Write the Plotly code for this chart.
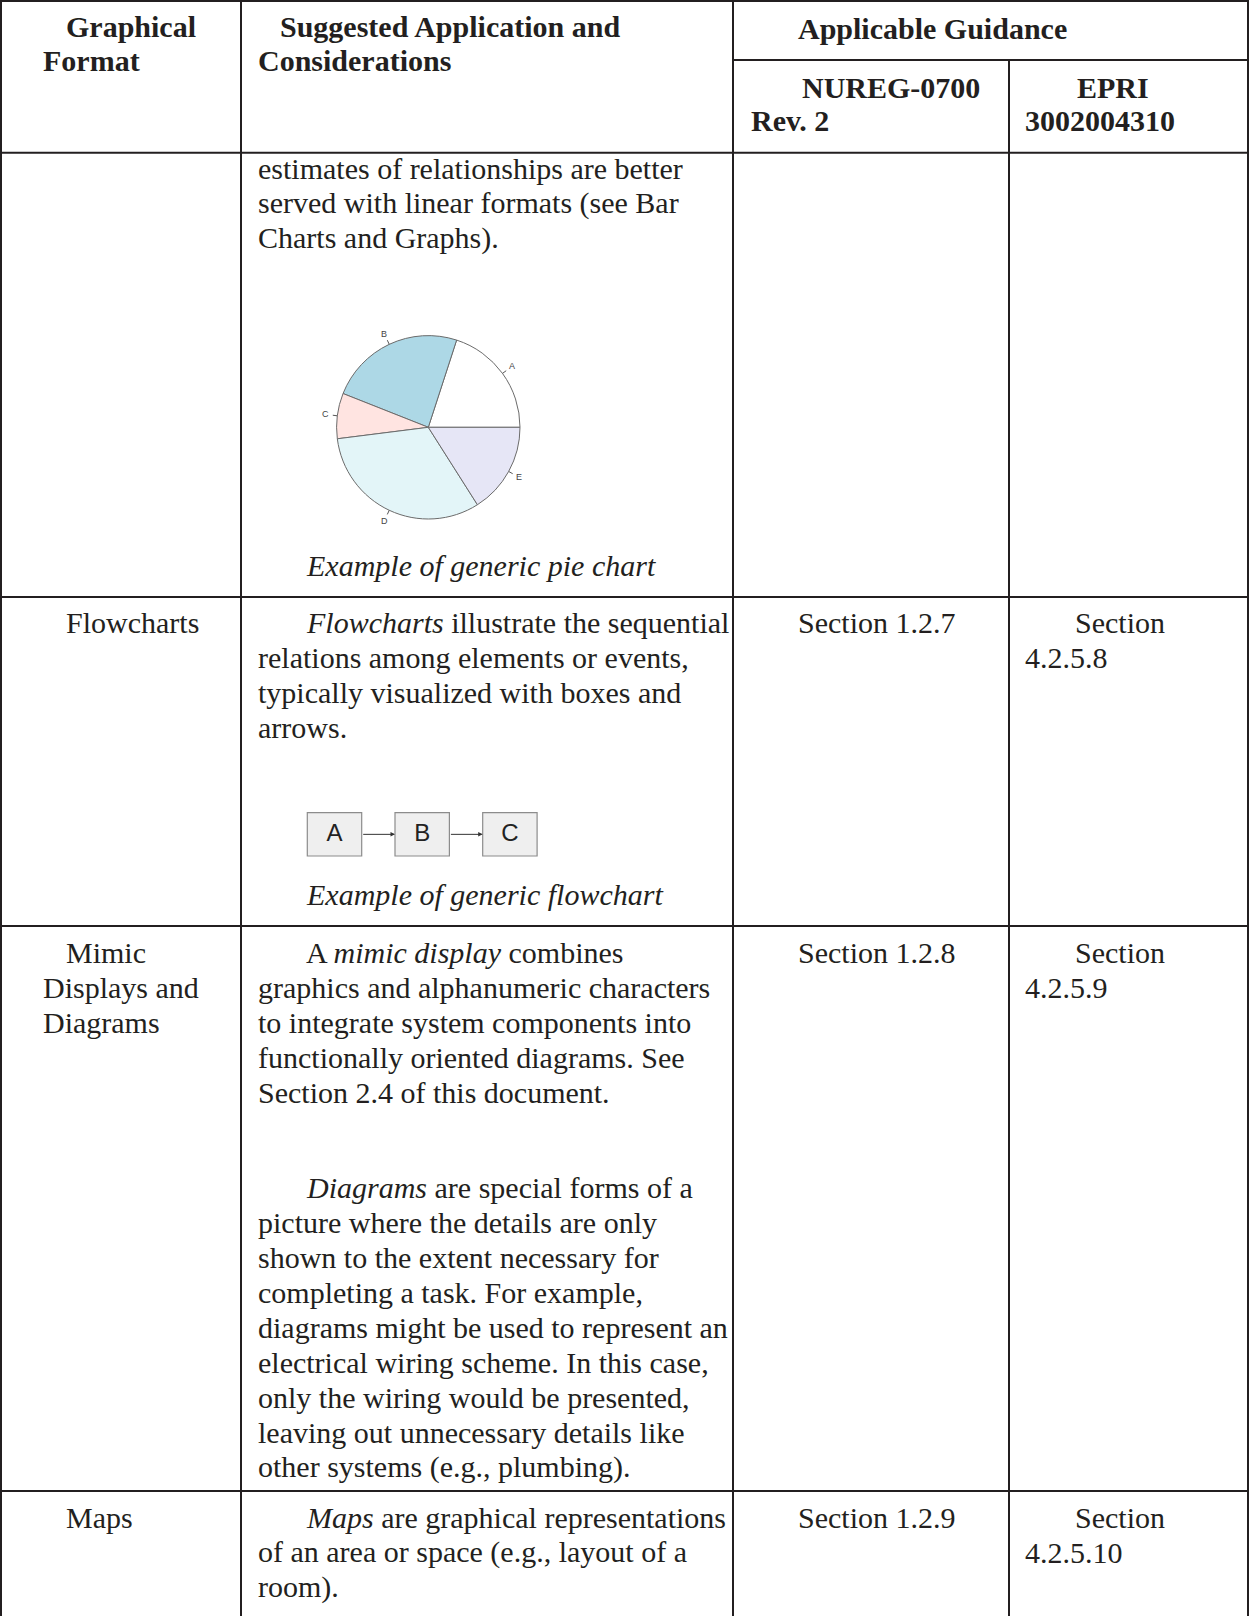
import math
import plotly.graph_objects as go

W, H = 1249, 1616
INK = "#231f20"
SERIF = "Liberation Serif, Times New Roman, serif"
SANS = "Liberation Sans, Arial, sans-serif"
FS = 30

# ---- table text ----
HEADER_FORMAT = ["Graphical", "Format"]
HEADER_APP = ["Suggested Application and", "Considerations"]
HEADER_GROUP = "Applicable Guidance"
HEADER_NUREG = ["NUREG-0700", "Rev. 2"]
HEADER_EPRI = ["EPRI", "3002004310"]

PIE_TEXT = [
    "estimates of relationships are better",
    "served with linear formats (see Bar",
    "Charts and Graphs).",
]
PIE_CAPTION = "Example of generic pie chart"

FLOW_TEXT = [
    "<i>Flowcharts</i> illustrate the sequential",
    "relations among elements or events,",
    "typically visualized with boxes and",
    "arrows.",
]
FLOW_CAPTION = "Example of generic flowchart"

MIMIC_TEXT = [
    "A <i>mimic display</i> combines",
    "graphics and alphanumeric characters",
    "to integrate system components into",
    "functionally oriented diagrams. See",
    "Section 2.4 of this document.",
]
DIAGRAM_TEXT = [
    "<i>Diagrams</i> are special forms of a",
    "picture where the details are only",
    "shown to the extent necessary for",
    "completing a task. For example,",
    "diagrams might be used to represent an",
    "electrical wiring scheme. In this case,",
    "only the wiring would be presented,",
    "leaving out unnecessary details like",
    "other systems (e.g., plumbing).",
]
MAPS_TEXT = [
    "<i>Maps</i> are graphical representations",
    "of an area or space (e.g., layout of a",
    "room).",
]

ROW_FORMAT = [[], ["Flowcharts"], ["Mimic", "Displays and", "Diagrams"], ["Maps"]]
ROW_NUREG = ["", "Section 1.2.7", "Section 1.2.8", "Section 1.2.9"]
ROW_EPRI = [[], ["Section", "4.2.5.8"], ["Section", "4.2.5.9"], ["Section", "4.2.5.10"]]

# ---- embedded chart data ----
PIE_LABELS = ["A", "B", "C", "D", "E"]
PIE_VALUES = [20, 24, 8, 32, 16]
PIE_COLORS = ["#ffffff", "#add8e6", "#ffe4e1", "#e3f5f8", "#e6e6f6"]

FLOW_STEPS = ["A", "B", "C"]

# ---- layout geometry ----
COL_X = [1, 241, 733, 1009, 1248]
ROW_TOP = [152.7, 597, 926, 1491]
ROW_FIRST = [168, 622.4, 952, 1517]
LINE = 35

fig = go.Figure()
shapes = []
annotations = []


def text(x, y, s, size=FS, bold=False, family=SERIF, color=INK):
    if bold:
        s = "<b>" + s + "</b>"
    annotations.append(dict(
        x=x, y=y, xref="x", yref="y", text=s, showarrow=False,
        xanchor="left", yanchor="middle",
        font=dict(family=family, size=size, color=color)))


def hline(y, x0, x1):
    shapes.append(dict(type="line", xref="x", yref="y", x0=x0, x1=x1, y0=y, y1=y,
                       line=dict(color=INK, width=2)))


def vline(x, y0, y1):
    shapes.append(dict(type="line", xref="x", yref="y", x0=x, x1=x, y0=y0, y1=y1,
                       line=dict(color=INK, width=2)))


# grid
hline(1, COL_X[0] - 1, COL_X[-1] + 1)
hline(60, COL_X[2], COL_X[-1] + 1)
for y in ROW_TOP:
    hline(y, COL_X[0] - 1, COL_X[-1] + 1)
for i, x in enumerate(COL_X):
    vline(x, 60 if i == 3 else 0, H)

# header
text(64, 26, HEADER_FORMAT[0], bold=True)
text(41, 60, HEADER_FORMAT[1], bold=True)
text(278, 26, HEADER_APP[0], bold=True)
text(256, 60, HEADER_APP[1], bold=True)
text(796, 28, HEADER_GROUP, bold=True)
text(800, 87, HEADER_NUREG[0], bold=True)
text(749, 120, HEADER_NUREG[1], bold=True)
text(1075, 87, HEADER_EPRI[0], bold=True)
text(1023, 120, HEADER_EPRI[1], bold=True)

# first column, guidance columns
for r in range(4):
    y0 = ROW_FIRST[r]
    for k, s in enumerate(ROW_FORMAT[r]):
        text(64 if k == 0 else 41, y0 + k * LINE, s)
    if ROW_NUREG[r]:
        text(796, y0, ROW_NUREG[r])
    for k, s in enumerate(ROW_EPRI[r]):
        text(1073 if k == 0 else 1023, y0 + k * LINE, s)


def paragraph(lines, y0, indent=True):
    for k, s in enumerate(lines):
        text(304 if (k == 0 and indent) else 256, y0 + k * LINE, s)


paragraph(PIE_TEXT, ROW_FIRST[0], indent=False)
paragraph(FLOW_TEXT, ROW_FIRST[1])
paragraph(MIMIC_TEXT, ROW_FIRST[2])
paragraph(DIAGRAM_TEXT, 1187)
paragraph(MAPS_TEXT, ROW_FIRST[3])
text(304, 565, "<i>" + PIE_CAPTION + "</i>")
text(304, 894.5, "<i>" + FLOW_CAPTION + "</i>")

# pie chart (first slice starts at 3 o'clock, counterclockwise, like R's pie())
cx, cy, rad = 428.3, 427.3, 91.7
total = sum(PIE_VALUES)
fig.add_trace(go.Pie(
    labels=PIE_LABELS, values=PIE_VALUES, sort=False,
    direction="counterclockwise", rotation=90 - 360 * PIE_VALUES[0] / total,
    marker=dict(colors=PIE_COLORS, line=dict(color="#6b6b6b", width=1)),
    textinfo="none", hoverinfo="label+value", showlegend=False,
    domain=dict(x=[(cx - rad) / W, (cx + rad) / W],
                y=[(H - cy - rad) / H, (H - cy + rad) / H]),
))
cum = 0
for lab, v in zip(PIE_LABELS, PIE_VALUES):
    mid = math.radians((cum + v / 2) / total * 360)
    cum += v
    c, s = math.cos(mid), math.sin(mid)
    shapes.append(dict(type="line", xref="x", yref="y",
                       x0=cx + rad * c, y0=cy - rad * s,
                       x1=cx + 1.05 * rad * c, y1=cy - 1.05 * rad * s,
                       line=dict(color="#555555", width=1)))
    annotations.append(dict(x=cx + 1.13 * rad * c, y=cy - 1.13 * rad * s,
                            xref="x", yref="y", text=lab, showarrow=False,
                            xanchor="center", yanchor="middle",
                            font=dict(family=SANS, size=9, color="#444444")))

# flowchart
FX0, FSTEP, BW = 307.3, 87.7, 54.4
BY0, BY1 = 812.7, 856
bx = [FX0 + i * FSTEP for i in range(len(FLOW_STEPS))]
for x0 in bx:
    shapes.append(dict(type="rect", xref="x", yref="y", x0=x0, x1=x0 + BW, y0=BY0, y1=BY1,
                       fillcolor="#efefef", line=dict(color="#8c8c8c", width=1.2),
                       layer="below"))
for a, b in zip(bx[:-1], bx[1:]):
    annotations.append(dict(x=b, y=(BY0 + BY1) / 2, ax=a + BW, ay=(BY0 + BY1) / 2,
                            xref="x", yref="y", axref="x", ayref="y", text="",
                            showarrow=True, arrowhead=2, arrowsize=0.9, arrowwidth=1,
                            arrowcolor="#333333"))
fig.add_trace(go.Scatter(
    x=[x0 + BW / 2 for x0 in bx], y=[(BY0 + BY1) / 2 + 1] * len(bx),
    mode="text", text=FLOW_STEPS, textposition="middle center",
    textfont=dict(family=SANS, size=24, color="#222222"),
    hoverinfo="skip", showlegend=False, cliponaxis=False,
))

fig.update_layout(
    width=W, height=H, margin=dict(l=0, r=0, t=0, b=0),
    paper_bgcolor="white", plot_bgcolor="rgba(0,0,0,0)",
    xaxis=dict(range=[0, W], visible=False, fixedrange=True),
    yaxis=dict(range=[H, 0], visible=False, fixedrange=True),
    shapes=shapes, annotations=annotations,
)

fig.write_html("out.html", config={"displayModeBar": False},
               post_script="document.body.style.margin='0px';")
